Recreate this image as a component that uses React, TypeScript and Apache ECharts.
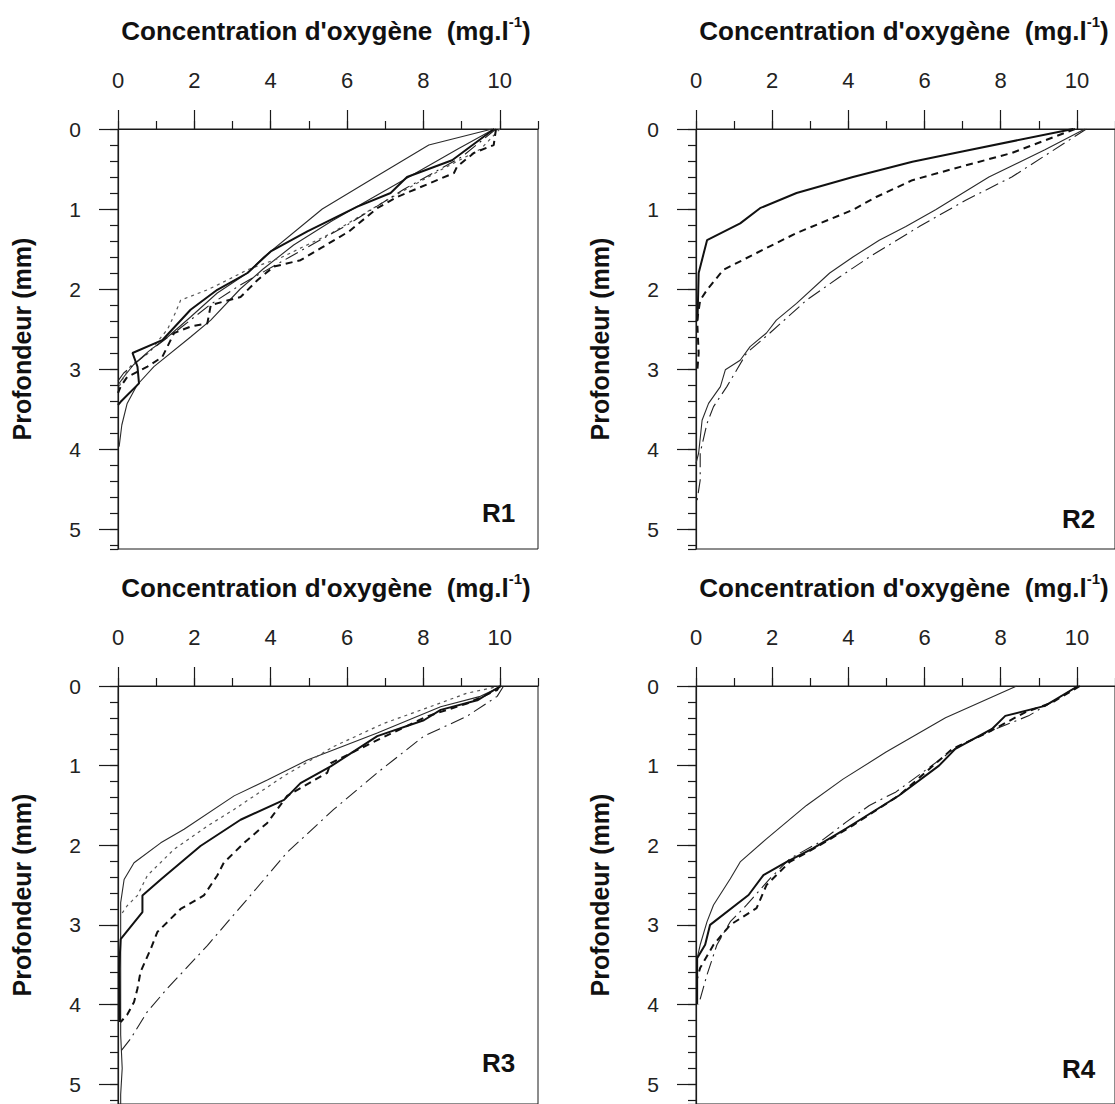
import React, { useEffect, useRef } from "react";
import * as echarts from "echarts";

const FONT = "'Liberation Sans', Arial, sans-serif";

// Axis ticks / labels
const X_LABELS = [0, 2, 4, 6, 8, 10];
const Y_LABELS = [0, 1, 2, 3, 4, 5];
const X_MAX = 11;
const Y_MAX = 5.25;
const PANEL_NAMES = ["R1", "R2", "R3", "R4"];
const X_TITLE = "Concentration d'oxygène  (mg.l";
const X_TITLE_SUP = "-1";
const Y_TITLE = "Profondeur (mm)";

// [concentration (mg/l), depth (mm)]
// R1
const r1ThickSolid = [[9.85, 0], [8.75, 0.39], [7.57, 0.6], [7.14, 0.8], [6.27, 0.97], [4.96, 1.28], [4.0, 1.53], [3.39, 1.8], [2.6, 2.01], [1.9, 2.26], [1.16, 2.64], [0.38, 2.8], [0.51, 2.97], [0.55, 3.18], [0.07, 3.41], [0, 3.45]];
const r1ThinA = [[9.8, 0], [8.14, 0.2], [6.74, 0.6], [5.35, 1.0], [3.82, 1.6], [3.39, 1.8], [2.6, 2.05], [1.9, 2.35], [1.3, 2.6], [0.8, 2.78], [0.4, 2.95], [0.15, 3.1], [0, 3.2]];
const r1ThinB = [[9.85, 0], [8.9, 0.25], [7.8, 0.55], [6.7, 0.85], [5.6, 1.15], [4.6, 1.45], [3.8, 1.75], [3.2, 2.0], [2.43, 2.39], [1.9, 2.6], [0.94, 2.97], [0.5, 3.2], [0.24, 3.43], [0.1, 3.7], [0.03, 3.97]];
const r1Dashed = [[9.9, 0], [9.84, 0.2], [9.32, 0.3], [8.88, 0.47], [8.8, 0.55], [7.31, 0.85], [6.79, 0.99], [6.05, 1.28], [5.31, 1.49], [4.78, 1.64], [4.08, 1.72], [3.65, 1.89], [3.21, 2.1], [2.43, 2.2], [2.34, 2.43], [1.9, 2.47], [1.47, 2.55], [1.16, 2.85], [0.77, 2.97], [0.24, 3.1], [0.07, 3.22], [0, 3.3]];
const r1Dotted = [[10, 0], [9.5, 0.25], [8.5, 0.5], [7, 0.9], [5.6, 1.3], [4.3, 1.6], [3.39, 1.76], [2.86, 1.89], [2.34, 2.01], [1.64, 2.14], [1.5, 2.3], [1.3, 2.5], [0.8, 2.8], [0.35, 2.95], [0.15, 3.1], [0, 3.25]];
const r1DashDot = [[9.9, 0], [9, 0.35], [7.5, 0.75], [6, 1.2], [4.5, 1.6], [3.2, 1.95], [2.4, 2.2], [1.6, 2.5], [0.9, 2.75], [0.4, 2.95], [0.15, 3.05], [0, 3.15]];

// R2
const r2ThickSolid = [[9.9, 0], [6.99, 0.28], [5.68, 0.41], [4.12, 0.6], [2.64, 0.8], [1.68, 0.99], [1.16, 1.18], [0.29, 1.39], [0.07, 1.8], [0.04, 2.39], [0, 2.4]];
const r2Dashed = [[9.95, 0], [8.29, 0.3], [6.81, 0.49], [5.68, 0.64], [4.73, 0.85], [4.12, 1.01], [2.64, 1.3], [1.59, 1.55], [0.72, 1.76], [0.29, 2.01], [0.11, 2.14], [0.03, 2.39], [0.07, 2.8], [0.03, 3.05]];
const r2ThinSolid = [[10.21, 0], [9.16, 0.26], [7.69, 0.6], [6.29, 1.01], [5.51, 1.22], [4.81, 1.39], [4.12, 1.6], [3.51, 1.8], [2.64, 2.18], [2.11, 2.39], [1.85, 2.55], [1.42, 2.72], [1.16, 2.89], [0.77, 3.01], [0.64, 3.22], [0.33, 3.43], [0.16, 3.64], [0.07, 4.05], [0, 4.18]];
const r2DashDot = [[10.25, 0], [8.29, 0.6], [7.08, 0.89], [5.86, 1.22], [4.55, 1.6], [3.77, 1.85], [2.9, 2.14], [1.94, 2.55], [1.33, 2.8], [0.81, 3.22], [0.46, 3.47], [0.29, 3.68], [0.11, 4.05], [0.11, 4.39], [0.03, 4.64]];

// R3
const r3ThinSolid = [[10.06, 0], [9.49, 0.13], [8.45, 0.26], [6.79, 0.59], [4.96, 0.93], [3.91, 1.18], [3.04, 1.38], [1.73, 1.8], [1.12, 1.97], [0.42, 2.22], [0.16, 2.43], [0.07, 2.72], [0.07, 3.55], [0.07, 4.38], [0.11, 4.8], [0.07, 5.13], [0.07, 5.3]];
const r3ThickSolid = [[10.02, 0], [9.41, 0.18], [8.45, 0.3], [8.01, 0.43], [6.79, 0.63], [5.57, 1.01], [4.78, 1.22], [4.35, 1.43], [3.21, 1.68], [2.16, 2.01], [1.12, 2.43], [0.64, 2.63], [0.64, 2.84], [0.07, 3.18], [0.03, 3.55], [0.05, 4.22]];
const r3Dotted = [[10.02, 0], [9.14, 0.09], [8.18, 0.26], [6.96, 0.47], [5.65, 0.76], [4.35, 1.13], [3.04, 1.55], [2.34, 1.76], [1.47, 2.05], [0.77, 2.38], [0.51, 2.63], [0.24, 2.76], [0.07, 2.88]];
const r3Dashed = [[10.0, 0], [9.93, 0.05], [9.14, 0.22], [8.1, 0.38], [6.79, 0.68], [5.57, 0.97], [5.48, 1.09], [4.43, 1.38], [3.91, 1.72], [3.3, 1.97], [2.77, 2.22], [2.6, 2.38], [2.25, 2.63], [1.64, 2.8], [1.03, 3.09], [0.86, 3.3], [0.59, 3.59], [0.51, 3.8], [0.42, 3.97], [0.24, 4.13], [0.07, 4.22]];
const r3DashDot = [[10.1, 0], [9.93, 0.13], [9.14, 0.38], [8.01, 0.63], [6.79, 1.09], [5.65, 1.55], [4.43, 2.09], [3.47, 2.63], [2.34, 3.26], [1.29, 3.8], [0.77, 4.09], [0.33, 4.43], [0.07, 4.59]];

// R4
const r4ThinSolid = [[8.42, 0], [6.55, 0.4], [4.99, 0.83], [3.86, 1.17], [2.9, 1.5], [1.85, 1.92], [1.16, 2.21], [0.9, 2.42], [0.46, 2.75], [0.29, 2.96], [0.11, 3.25], [0.03, 3.42]];
const r4ThickSolid = [[10.03, 0], [9.16, 0.25], [8.12, 0.375], [7.77, 0.54], [6.81, 0.79], [6.38, 1.0], [5.33, 1.375], [3.94, 1.79], [3.07, 2.04], [2.38, 2.21], [1.77, 2.375], [1.38, 2.625], [0.37, 3.0], [0.24, 3.25], [0.03, 3.42], [0.03, 4.0]];
const r4Dashed = [[10.08, 0], [9.34, 0.21], [8.64, 0.33], [7.68, 0.58], [6.73, 0.79], [5.33, 1.375], [4.12, 1.75], [3.25, 2.0], [2.46, 2.21], [1.85, 2.5], [1.59, 2.79], [0.9, 3.0], [0.46, 3.25], [0.11, 3.54], [0.03, 3.67]];
const r4DashDot = [[10.03, 0], [8.73, 0.375], [7.86, 0.54], [6.9, 0.75], [5.25, 1.33], [4.55, 1.5], [3.94, 1.71], [3.25, 1.96], [2.46, 2.17], [1.94, 2.42], [1.33, 2.75], [0.9, 2.96], [0.55, 3.25], [0.29, 3.625], [0.07, 4.0]];

const STYLES: Record<string, any> = {
  thick: { color: "#111", width: 2, type: "solid" },
  thin: { color: "#2a2a2a", width: 1.1, type: "solid" },
  dashed: { color: "#111", width: 2, type: [7, 5] },
  dotted: { color: "#555", width: 1.2, type: [3, 4] },
  dashdot: { color: "#222", width: 1.1, type: [14, 5, 2, 5] },
};

const PANEL_SERIES = [
  [["thin", r1ThinA], ["thin", r1ThinB], ["dotted", r1Dotted], ["dashdot", r1DashDot], ["dashed", r1Dashed], ["thick", r1ThickSolid]],
  [["thin", r2ThinSolid], ["dashdot", r2DashDot], ["dashed", r2Dashed], ["thick", r2ThickSolid]],
  [["thin", r3ThinSolid], ["dotted", r3Dotted], ["dashdot", r3DashDot], ["dashed", r3Dashed], ["thick", r3ThickSolid]],
  [["thin", r4ThinSolid], ["dashdot", r4DashDot], ["dashed", r4Dashed], ["thick", r4ThickSolid]],
];

// layout (pixels)
const PANEL_POS = [
  { left: 118, top: 129 },
  { left: 696, top: 129 },
  { left: 118, top: 686 },
  { left: 696, top: 686 },
];
const PW = 420;
const PH = 420;
const NAME_OFFSET = [
  { dx: 364, dy: 384 },
  { dx: 366, dy: 390 },
  { dx: 364, dy: 377 },
  { dx: 366, dy: 383 },
];

export default function App() {
  const ref = useRef<HTMLDivElement>(null);
  useEffect(() => {
    document.body.style.margin = "0";
    const chart = echarts.init(ref.current!, null, { renderer: "svg" });
    const grid: any[] = [];
    const xAxis: any[] = [];
    const yAxis: any[] = [];
    const series: any[] = [];
    const graphic: any[] = [];
    const axisColor = "#1a1a1a";

    PANEL_POS.forEach((p, i) => {
      grid.push({ left: p.left, top: p.top, width: PW, height: PH, show: true, borderColor: axisColor, borderWidth: 1, backgroundColor: "transparent" });
      // major x axis
      xAxis.push({
        type: "value", gridIndex: i, position: "top", min: 0, max: X_MAX, interval: 1,
        axisLine: { show: true, lineStyle: { color: axisColor, width: 1.2 } },
        axisTick: { show: true, inside: false, length: 19, customValues: X_LABELS, lineStyle: { color: axisColor, width: 1.2 } },
        axisLabel: { show: true, customValues: X_LABELS, margin: 38, fontSize: 22, color: "#222", fontFamily: FONT },
        splitLine: { show: false },
      });
      // minor x ticks
      xAxis.push({
        type: "value", gridIndex: i, position: "top", min: 0, max: X_MAX, interval: 1,
        axisLine: { show: false },
        axisTick: { show: true, inside: false, length: 8, lineStyle: { color: axisColor, width: 1.2 } },
        axisLabel: { show: false },
        splitLine: { show: false },
      });
      yAxis.push({
        type: "value", gridIndex: i, position: "left", min: 0, max: Y_MAX, interval: 1, inverse: true,
        name: Y_TITLE, nameLocation: "middle", nameRotate: 90, nameGap: 84,
        nameTextStyle: { fontSize: 25, fontWeight: "bold", color: "#111", fontFamily: FONT },
        axisLine: { show: true, lineStyle: { color: axisColor, width: 1.2 } },
        axisTick: { show: true, inside: false, length: 19, customValues: Y_LABELS, lineStyle: { color: axisColor, width: 1.2 } },
        axisLabel: { show: true, customValues: Y_LABELS, margin: 37, fontSize: 21, color: "#222", fontFamily: FONT },
        splitLine: { show: false },
      });
      yAxis.push({
        type: "value", gridIndex: i, position: "left", min: 0, max: Y_MAX, interval: 0.2, inverse: true,
        axisLine: { show: false },
        axisTick: { show: true, inside: false, length: 8, lineStyle: { color: axisColor, width: 1.2 } },
        axisLabel: { show: false },
        splitLine: { show: false },
      });

      PANEL_SERIES[i].forEach(([styleKey, data]: any, k: number) => {
        series.push({
          type: "line", name: PANEL_NAMES[i] + "-" + k, xAxisIndex: 2 * i, yAxisIndex: 2 * i,
          data, showSymbol: false, symbol: "none", silent: true,
          lineStyle: { ...STYLES[styleKey] }, z: 3,
        });
      });

      graphic.push({
        type: "text", x: p.left + PW / 2 - 2, y: p.top - 115,
        style: {
          text: `{a|${X_TITLE}}{s|${X_TITLE_SUP}}{a|)}`,
          align: "center", verticalAlign: "top",
          rich: {
            a: { fontSize: 26, fontWeight: "bold", fontFamily: FONT, lineHeight: 34, fill: "#111" },
            s: { fontSize: 15, fontWeight: "bold", fontFamily: FONT, lineHeight: 15, verticalAlign: "top", fill: "#111" },
          },
        },
      });
      graphic.push({
        type: "text", x: p.left + NAME_OFFSET[i].dx, y: p.top + NAME_OFFSET[i].dy,
        style: { text: PANEL_NAMES[i], fontSize: 26, fontWeight: "bold", fontFamily: FONT, fill: "#111", align: "left", verticalAlign: "middle" },
      });
    });

    chart.setOption({ animation: false, backgroundColor: "#fff", grid, xAxis, yAxis, series, graphic });
    return () => chart.dispose();
  }, []);
  return <div ref={ref} style={{ position: "absolute", left: 0, top: 0, width: 1115, height: 1104 }} />;
}
